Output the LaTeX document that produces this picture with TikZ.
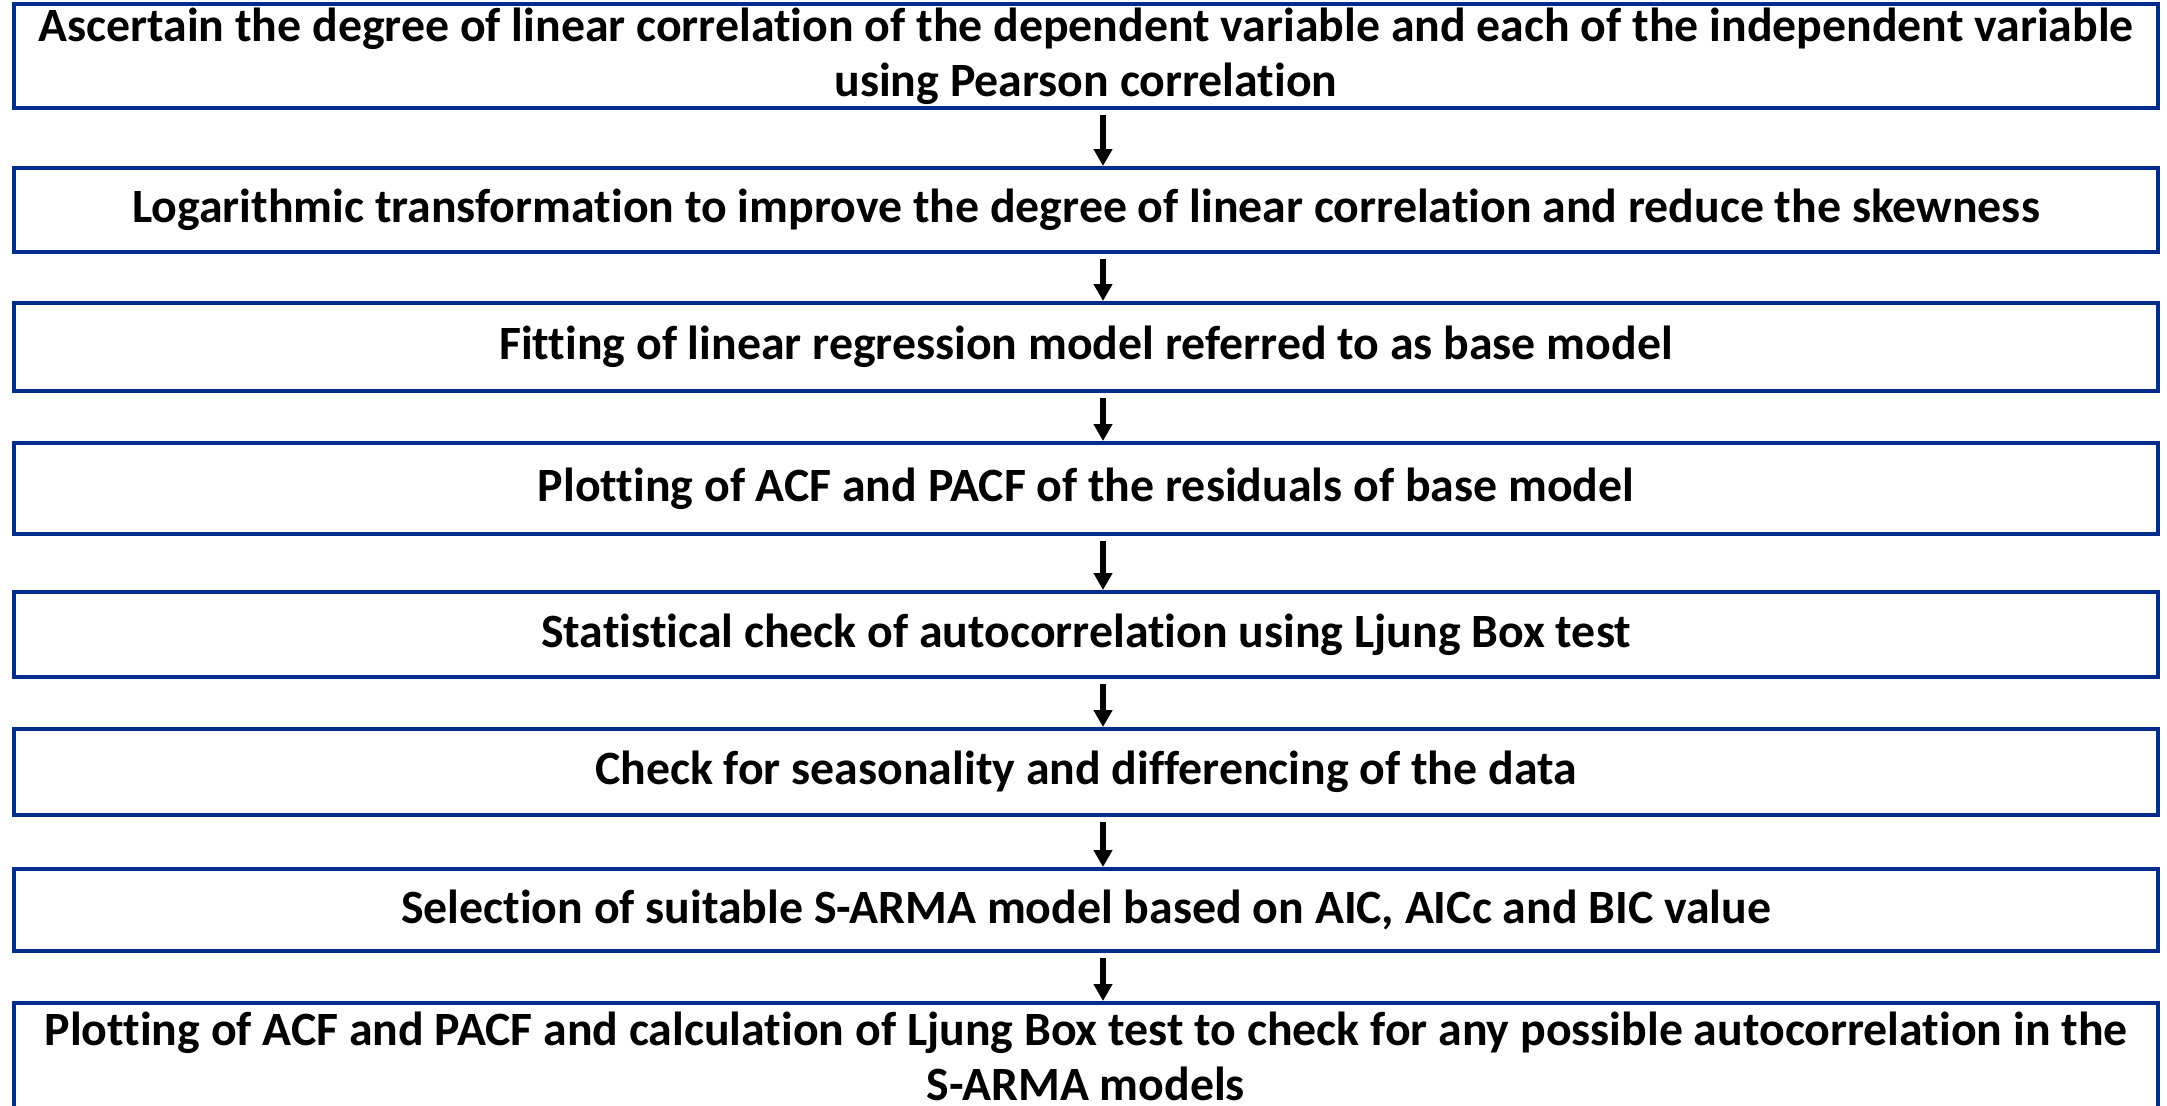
\documentclass[tikz,border=0pt]{standalone}
\usepackage{fontspec}
\setmainfont{Carlito}[Ligatures=NoCommon]
\usetikzlibrary{arrows.meta,calc}
\definecolor{boxblue}{RGB}{0,45,140}
\tikzset{
  stepbox/.style={draw=boxblue, line width=2pt, rectangle, minimum width=1072pt,
    inner sep=0pt, align=center, font=\fontsize{23.9}{27.5}\selectfont\bfseries},
  flow/.style={draw=black, line width=3pt,
    -{Triangle[width=9pt,length=8.5pt]}}
}
\begin{document}
\begin{tikzpicture}[x=0.5pt,y=-0.5pt]
\useasboundingbox (0,0) rectangle (2167,1105);
\begin{scope}
\clip (0,0) rectangle (2167,1105);
\node[stepbox, minimum height=52pt] (b1) at (1086,56)
  {Ascertain the degree of linear correlation of the dependent variable and each of the independent variable\\using Pearson correlation};
\node[stepbox, minimum height=42pt] (b2) at (1086,210)
  {Logarithmic transformation to improve the degree of linear correlation and reduce the skewness};
\node[stepbox, minimum height=44pt] (b3) at (1086,347)
  {Fitting of linear regression model referred to as base model};
\node[stepbox, minimum height=45.5pt] (b4) at (1086,488.5)
  {Plotting of ACF and PACF of the residuals of base model};
\node[stepbox, minimum height=42.5pt] (b5) at (1086,634.5)
  {Statistical check of autocorrelation using Ljung Box test};
\node[stepbox, minimum height=43pt] (b6) at (1086,772)
  {Check for seasonality and differencing of the data};
\node[stepbox, minimum height=41pt] (b7) at (1086,910)
  {Selection of suitable S-ARMA model based on AIC, AICc and BIC value};
\node[stepbox, minimum height=53pt] (b8) at (1086,1056)
  {Plotting of ACF and PACF and calculation of Ljung Box test to check for any possible autocorrelation in the\\S-ARMA models};
\end{scope}
\foreach \a/\b in {b1/b2,b2/b3,b3/b4,b4/b5,b5/b6,b6/b7,b7/b8}
  \draw[flow] ($(\a.south)+(17,5)$) -- ($(\b.north)+(17,0)$);
\end{tikzpicture}
\end{document}
